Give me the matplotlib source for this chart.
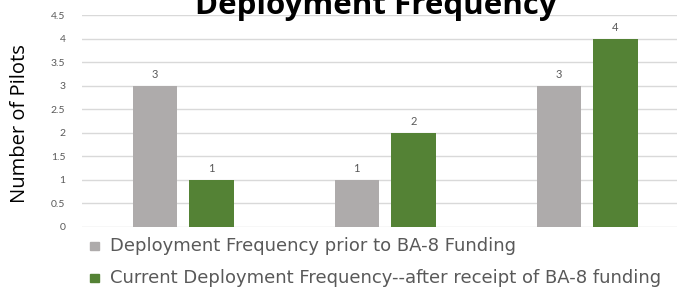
import matplotlib.pyplot as plt
import numpy as np

categories = ["A", "B", "C"]
prior = [3, 1, 3]
current = [1, 2, 4]
series_names = [
    "Deployment Frequency prior to BA-8 Funding",
    "Current Deployment Frequency--after receipt of BA-8 funding",
]
yticks = [0, 0.5, 1, 1.5, 2, 2.5, 3, 3.5, 4, 4.5]
ytick_labels = ["0", "0.5", "1", "1.5", "2", "2.5", "3", "3.5", "4", "4.5"]

GRAY = "#aeabab"
GREEN = "#548235"
TEXT = "#595959"

W, H = 677, 287
fig = plt.figure(figsize=(W / 100, H / 100), dpi=100)
# axes runs past the right edge, the original is cropped there
left, right = 82, 688
bottom, top = 227, 15
ax = fig.add_axes([left / W, 1 - bottom / H, (right - left) / W, (bottom - top) / H])

x = np.arange(len(categories))
bw = 0.22
ax.bar(x - 0.14, prior, bw, color=GRAY, zorder=3)
ax.bar(x + 0.14, current, bw, color=GREEN, zorder=3)
for xi, v in zip(x - 0.14, prior):
    ax.text(xi, v + 0.12, str(v), ha="center", va="bottom", fontsize=8, color=TEXT, family="Lato")
for xi, v in zip(x + 0.14, current):
    ax.text(xi, v + 0.12, str(v), ha="center", va="bottom", fontsize=8, color=TEXT, family="Lato")

ax.set_xlim(-0.5, 2.5)
ax.set_ylim(0, 4.5)
ax.set_yticks(yticks)
ax.set_yticklabels(ytick_labels, fontsize=7.5, color=TEXT, family="Lato")
ax.set_xticks([])
ax.tick_params(axis="y", length=0, pad=12)
ax.grid(axis="y", color="#d9d9d9", lw=1, zorder=0)
for s in ax.spines.values():
    s.set_visible(False)

fig.text(10 / W, 1 - 124 / H, "Number of Pilots", rotation=90, ha="left", va="center",
         fontsize=14.5, color="black", family="Open Sans")
fig.text(376 / W, 1 - 14 / H, "Deployment Frequency", ha="center", va="baseline",
         fontsize=22.5, fontweight="bold", color="black", family="Open Sans")

for i, (c, name) in enumerate(zip([GRAY, GREEN], series_names)):
    yy = 1 - (246 + 32 * i) / H
    fig.patches.append(plt.Rectangle((90 / W, yy - 4 / H), 9 / W, 8 / H, color=c,
                                     transform=fig.transFigure, figure=fig))
    fig.text(110 / W, yy, name, ha="left", va="center", fontsize=13, color=TEXT,
             family="DejaVu Sans")

fig.savefig("out.png", dpi=100)
